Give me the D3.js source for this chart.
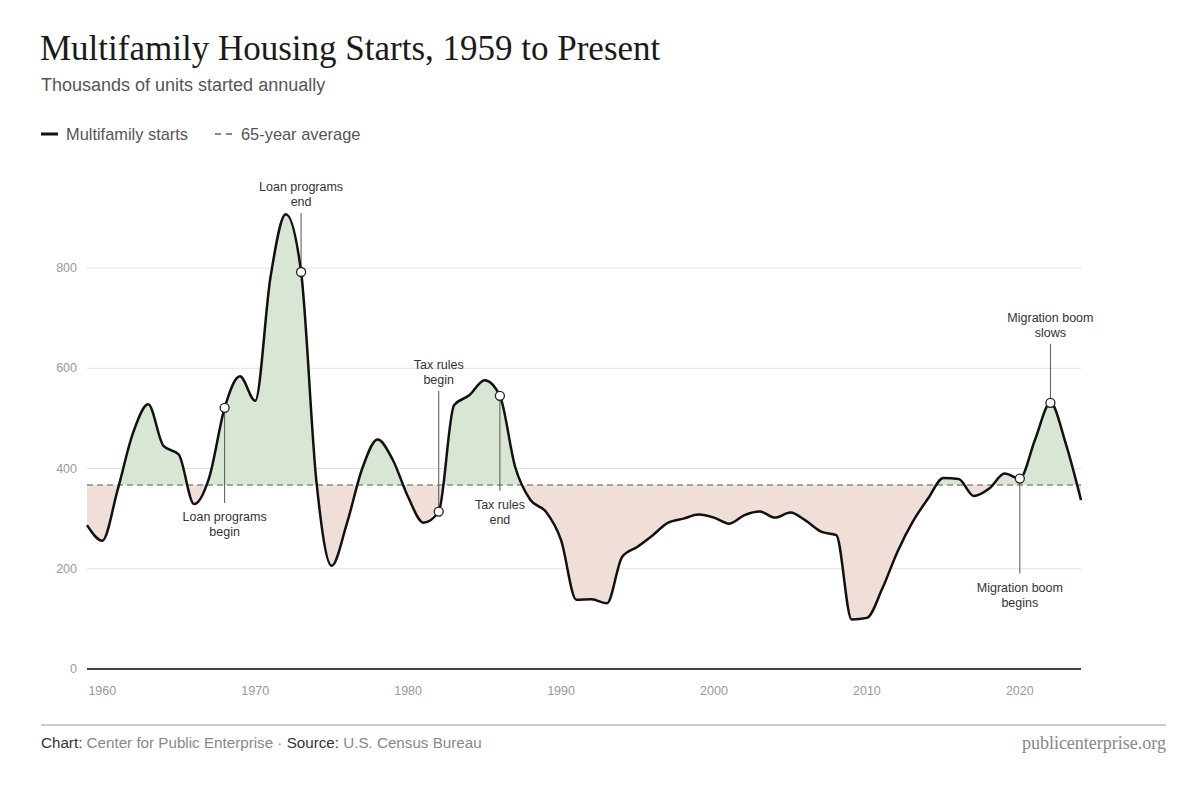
<!DOCTYPE html>
<html>
<head>
<meta charset="utf-8">
<script src="https://cdn.jsdelivr.net/npm/d3@7"></script>
<style>
  body { margin: 0; background: #fff; }
  text { font-family: "Liberation Sans", Arial, sans-serif; }
  .title { font-family: "Liberation Serif", "Times New Roman", serif; font-size: 35px; fill: #1a1a1a; }
  .subtitle { font-size: 18px; fill: #555; }
  .legend_item_text { font-size: 16.4px; fill: #555; }
  .tick_text { font-size: 12.5px; fill: #999; }
  .note { font-size: 12.5px; fill: #333; text-anchor: middle; }
  .foot { font-size: 15.2px; }
</style>
</head>
<body>
<div id="chart"></div>
<script>
// years and multifamily starts (thousands of units)
const years = d3.range(1959, 2025)
const starts = [
  287, 256, 357, 470, 528, 445, 428, 329, 383, 521,
  584, 535, 782, 907, 792, 375, 206, 291, 400, 458,
  417, 343, 292, 314, 526, 546, 576, 545, 403, 337,
  314, 257, 138, 139, 131, 224, 244, 267, 292, 300,
  308, 302, 290, 307, 314, 302, 312, 296, 274, 267,
  99, 102, 160, 234, 294, 340, 381, 379, 345, 360,
  390, 380, 458, 531, 450, 337
]
const average = 367

const yTicks = [0, 200, 400, 600, 800]
const xTicks = [1960, 1970, 1980, 1990, 2000, 2010, 2020]

// annotated years: label lines, above or below the curve
const notes = [
  { year: 1968, lines: ["Loan programs", "begin"], side: "below" },
  { year: 1973, lines: ["Loan programs", "end"], side: "above" },
  { year: 1982, lines: ["Tax rules", "begin"], side: "above" },
  { year: 1986, lines: ["Tax rules", "end"], side: "below" },
  { year: 2020, lines: ["Migration boom", "begins"], side: "below" },
  { year: 2022, lines: ["Migration boom", "slows"], side: "above" }
]

const data = years.map((y, i) => ({ year: y, value: starts[i] }))

const width = 1200, height = 788
const svg = d3.select("#chart").append("svg")
  .attr("width", width).attr("height", height)

const x = d3.scaleLinear().domain([1959, 2024]).range([87, 1081])
const y = d3.scaleLinear().domain([0, 800]).range([669, 268])

// titles
svg.append("text").attr("class", "title").attr("x", 40).attr("y", 60)
  .text("Multifamily Housing Starts, 1959 to Present")
svg.append("text").attr("class", "subtitle").attr("x", 41).attr("y", 91)
  .text("Thousands of units started annually")

// legend
svg.append("line").attr("x1", 41).attr("x2", 58).attr("y1", 134).attr("y2", 134)
  .attr("stroke", "#111").attr("stroke-width", 3)
svg.append("text").attr("class", "legend_item_text").attr("x", 66).attr("y", 140).text("Multifamily starts")
svg.append("line").attr("x1", 215).attr("x2", 232).attr("y1", 134).attr("y2", 134)
  .attr("stroke", "#888").attr("stroke-width", 2).attr("stroke-dasharray", "6,5")
svg.append("text").attr("class", "legend_item_text").attr("x", 241).attr("y", 140).text("65-year average")

// gridlines and y labels
const yAxis = svg.append("g")
yTicks.filter(d => d > 0).forEach(t => {
  yAxis.append("line").attr("x1", 87).attr("x2", 1081).attr("y1", y(t)).attr("y2", y(t))
    .attr("stroke", "#e0e0e0").attr("stroke-width", 1)
})
yTicks.forEach(t => {
  yAxis.append("text").attr("class", "tick_text").attr("x", 77).attr("y", y(t) + 4)
    .attr("text-anchor", "end").text(t)
})

// x labels
xTicks.forEach(t => {
  svg.append("text").attr("class", "tick_text").attr("x", x(t)).attr("y", 695)
    .attr("text-anchor", "middle").text(t)
})

// fills between curve and average
const defs = svg.append("defs")
defs.append("clipPath").attr("id", "clip-above").append("rect")
  .attr("x", 0).attr("y", 0).attr("width", width).attr("height", y(average))
defs.append("clipPath").attr("id", "clip-below").append("rect")
  .attr("x", 0).attr("y", y(average)).attr("width", width).attr("height", height - y(average))

const area = d3.area().curve(d3.curveMonotoneX)
  .x(d => x(d.year)).y0(y(average)).y1(d => y(d.value))

svg.append("path").datum(data).attr("d", area)
  .attr("fill", "#d9e6d3").attr("clip-path", "url(#clip-above)")
svg.append("path").datum(data).attr("d", area)
  .attr("fill", "#f0ded8").attr("clip-path", "url(#clip-below)")

// zero line
svg.append("line").attr("x1", 87).attr("x2", 1081).attr("y1", y(0)).attr("y2", y(0))
  .attr("stroke", "#444").attr("stroke-width", 2)

// average line
svg.append("line").attr("x1", 87).attr("x2", 1081).attr("y1", y(average)).attr("y2", y(average))
  .attr("stroke", "#8a8a8a").attr("stroke-width", 1.5).attr("stroke-dasharray", "6,4")

// annotation leader lines
notes.forEach(n => {
  const v = starts[years.indexOf(n.year)]
  const px = x(n.year), py = y(v)
  const g = svg.append("g")
  if (n.side === "above") {
    const top = py - (n.year === 1982 ? 121 : 59)
    g.append("line").attr("x1", px).attr("x2", px).attr("y1", top).attr("y2", py)
      .attr("stroke", "#555").attr("stroke-width", 1)
    g.append("text").attr("class", "note").attr("x", px).attr("y", top - 22).text(n.lines[0])
    g.append("text").attr("class", "note").attr("x", px).attr("y", top - 7).text(n.lines[1])
  } else {
    const bot = py + 95
    g.append("line").attr("x1", px).attr("x2", px).attr("y1", py).attr("y2", bot)
      .attr("stroke", "#555").attr("stroke-width", 1)
    g.append("text").attr("class", "note").attr("x", px).attr("y", bot + 18).text(n.lines[0])
    g.append("text").attr("class", "note").attr("x", px).attr("y", bot + 33).text(n.lines[1])
  }
})

// main line
const line = d3.line().curve(d3.curveMonotoneX).x(d => x(d.year)).y(d => y(d.value))
svg.append("path").datum(data).attr("d", line)
  .attr("fill", "none").attr("stroke", "#111").attr("stroke-width", 2.5)

// dots
svg.selectAll(".dot").data(notes).join("circle")
  .attr("cx", d => x(d.year)).attr("cy", d => y(starts[years.indexOf(d.year)]))
  .attr("r", 4.5).attr("fill", "#fff").attr("stroke", "#222").attr("stroke-width", 1.3)

// footer
svg.append("line").attr("x1", 41).attr("x2", 1166).attr("y1", 725).attr("y2", 725)
  .attr("stroke", "#ccc").attr("stroke-width", 2)
const foot = svg.append("text").attr("class", "foot").attr("x", 41).attr("y", 748)
foot.append("tspan").attr("fill", "#333").text("Chart: ")
foot.append("tspan").attr("fill", "#888").text("Center for Public Enterprise")
foot.append("tspan").attr("fill", "#888").text(" · ")
foot.append("tspan").attr("fill", "#333").text("Source: ")
foot.append("tspan").attr("fill", "#888").text("U.S. Census Bureau")
svg.append("text").attr("x", 1166).attr("y", 749).attr("text-anchor", "end")
  .style("font-family", "'Liberation Serif', serif").style("font-size", "18px").attr("fill", "#888")
  .text("publicenterprise.org")
</script>
</body>
</html>
